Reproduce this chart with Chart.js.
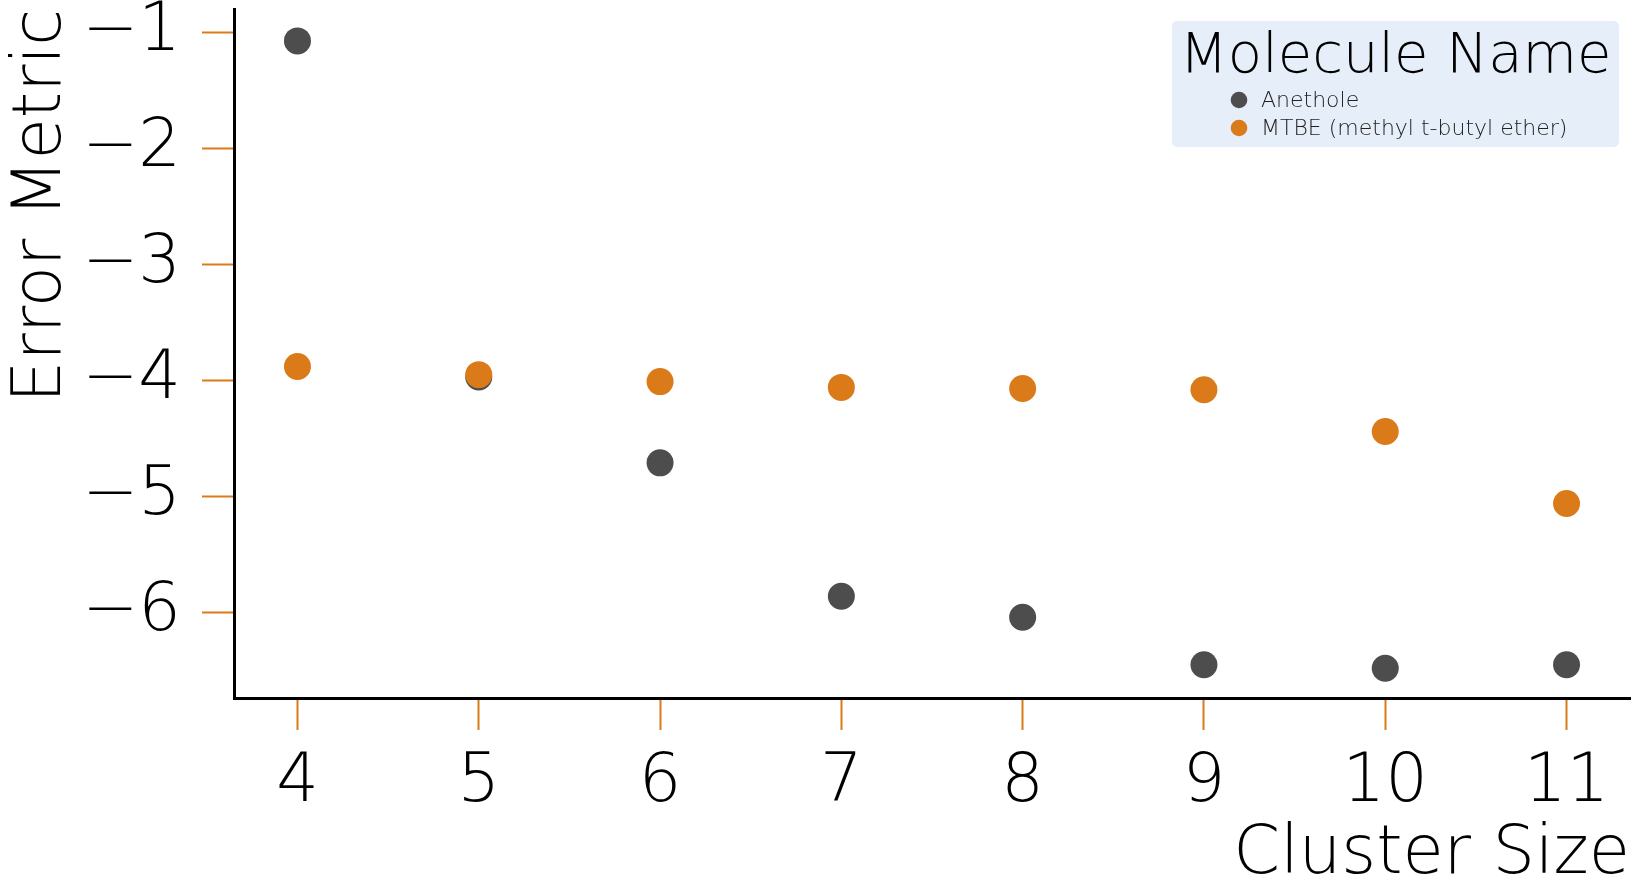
<!DOCTYPE html>
<html>
<head>
<meta charset="utf-8">
<script src="https://cdn.jsdelivr.net/npm/chart.js@4.4.1/dist/chart.umd.min.js"></script>
<style>
  html, body { margin: 0; padding: 0; background: #fff; }
</style>
</head>
<body>
<canvas id="chart" width="1644" height="882"></canvas>
<script>
// values
const clusterSizes = [4, 5, 6, 7, 8, 9, 10, 11];
const anetholeErr = [-1.075, -3.97, -4.71, -5.86, -6.04, -6.45, -6.48, -6.45];
const mtbeErr = [-3.88, -3.95, -4.01, -4.06, -4.07, -4.08, -4.44, -5.06];
const seriesNames = ['Anethole', 'MTBE (methyl t-butyl ether)'];
const xTicks = [4, 5, 6, 7, 8, 9, 10, 11];
const yTicks = [-1, -2, -3, -4, -5, -6];
const yTickLabels = ['\u22121', '\u22122', '\u22123', '\u22124', '\u22125', '\u22126'];
const legendTitle = 'Molecule Name';
const xTitle = 'Cluster Size';
const yTitle = 'Error Metric';

const DARK = '#4d4d4d';
const ORANGE = '#db7a18';
const FONT = "'DejaVu Sans', sans-serif";
const WEIGHT = 200;

function toPoints(ys) {
  return clusterSizes.map((x, i) => ({ x: x, y: ys[i] }));
}

// legend box drawn on the canvas, top right
const boxLegend = {
  id: 'boxLegend',
  afterDraw(chart) {
    const ctx = chart.ctx;
    const x0 = 1172, y0 = 21, w = 447, h = 126;
    ctx.save();
    ctx.fillStyle = '#e6eef9';
    ctx.beginPath();
    ctx.roundRect(x0, y0, w, h, 5);
    ctx.fill();

    ctx.fillStyle = '#000';
    ctx.font = WEIGHT + ' 56px ' + FONT;
    ctx.textAlign = 'center';
    ctx.textBaseline = 'alphabetic';
    ctx.fillText(legendTitle, x0 + w / 2, 72);

    ctx.font = WEIGHT + ' 22px ' + FONT;
    ctx.textAlign = 'left';
    ctx.textBaseline = 'middle';
    chart.data.datasets.forEach((ds, i) => {
      const cy = 100 + i * 28;
      ctx.fillStyle = ds.backgroundColor;
      ctx.beginPath();
      ctx.arc(1239, cy, 8.3, 0, Math.PI * 2);
      ctx.fill();
      ctx.fillStyle = '#222';
      ctx.fillText(ds.label, 1261, cy + 1);
    });
    ctx.restore();
  }
};

new Chart(document.getElementById('chart'), {
  type: 'scatter',
  data: {
    datasets: [
      {
        label: seriesNames[0],
        data: toPoints(anetholeErr),
        backgroundColor: DARK,
        borderWidth: 0,
        pointRadius: 13.5,
        order: 1
      },
      {
        label: seriesNames[1],
        data: toPoints(mtbeErr),
        backgroundColor: ORANGE,
        borderWidth: 0,
        pointRadius: 13.5,
        order: 0
      }
    ]
  },
  options: {
    responsive: false,
    devicePixelRatio: 1,
    animation: false,
    layout: { autoPadding: false, padding: { top: 9, right: 14, left: 0, bottom: 0 } },
    plugins: {
      legend: { display: false },
      tooltip: { enabled: false }
    },
    scales: {
      x: {
        type: 'linear',
        min: 3.65,
        max: 11.35,
        afterBuildTicks(scale) {
          scale.ticks = xTicks.map(v => ({ value: v }));
        },
        afterFit(scale) {
          scale.height = 184;
          scale.paddingLeft = 0;
          scale.paddingRight = 0;
        },
        border: { color: '#000', width: 3 },
        grid: {
          drawOnChartArea: false,
          drawTicks: true,
          tickLength: 32,
          tickColor: ORANGE,
          tickWidth: 2
        },
        ticks: {
          color: '#000',
          font: { family: FONT, size: 67, weight: WEIGHT },
          padding: 13,
          maxRotation: 0,
          autoSkip: false,
          callback: v => String(v)
        },
        title: {
          display: true,
          text: xTitle,
          align: 'end',
          color: '#000',
          font: { family: FONT, size: 67, weight: WEIGHT, lineHeight: 0.8 },
          padding: { top: 0, bottom: 0 }
        }
      },
      y: {
        type: 'linear',
        min: -6.736,
        max: -0.8,
        afterBuildTicks(scale) {
          scale.ticks = yTicks.map(v => ({ value: v }));
        },
        afterFit(scale) {
          scale.width = 234;
          scale.paddingTop = 0;
          scale.paddingBottom = 0;
        },
        border: { color: '#000', width: 3 },
        grid: {
          drawOnChartArea: false,
          drawTicks: true,
          tickLength: 32,
          tickColor: ORANGE,
          tickWidth: 2
        },
        ticks: {
          color: '#000',
          font: { family: FONT, size: 67, weight: WEIGHT },
          padding: 21,
          autoSkip: false,
          callback: v => yTickLabels[yTicks.indexOf(v)]
        },
        title: {
          display: true,
          text: yTitle,
          align: 'end',
          color: '#000',
          font: { family: FONT, size: 67, weight: WEIGHT },
          padding: { top: 2, bottom: 0 }
        }
      }
    }
  },
  plugins: [boxLegend]
});
</script>
</body>
</html>
